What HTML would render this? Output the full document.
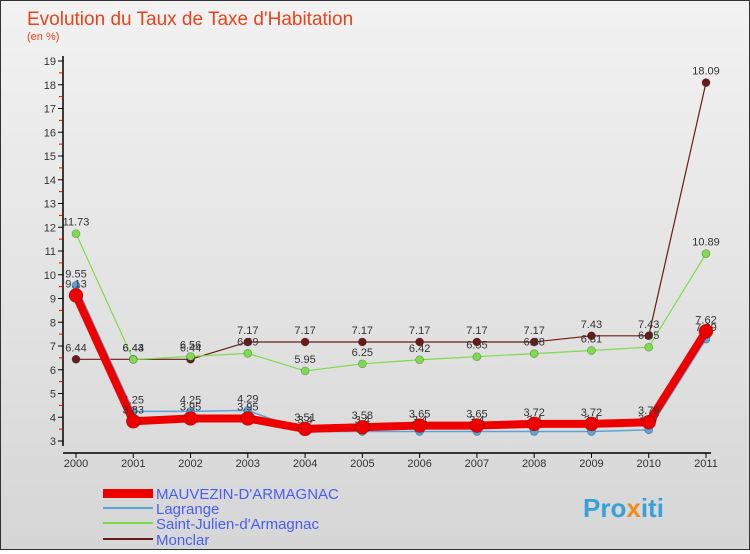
<!DOCTYPE html>
<html><head><meta charset="utf-8"><style>
body{margin:0;width:750px;height:550px;overflow:hidden;font-family:"Liberation Sans",sans-serif}
#wrap{position:relative;width:748px;height:548px;border:1px solid #333;background:linear-gradient(#f2f2f2,#d6d6d6)}
</style></head><body>
<div id="wrap">
<svg id="chart" width="748" height="548">
<text x="26" y="24" font-size="19" fill="#e8431b">Evolution du Taux de Taxe d'Habitation</text>
<text x="26" y="39" font-size="11" fill="#e8431b">(en %)</text>
<g id="axes"></g><g id="series"></g>
<g>
<rect x="102" y="488" width="50" height="9" fill="#e00"/>
<text x="155" y="498" font-size="15" fill="#4a5ef0">MAUVEZIN-D'ARMAGNAC</text>
<rect x="102" y="506" width="50" height="2" fill="#5ba3d9"/>
<text x="155" y="513" font-size="15" fill="#4a5ef0">Lagrange</text>
<rect x="102" y="521" width="50" height="2" fill="#7cdc4c"/>
<text x="155" y="528" font-size="15" fill="#4a5ef0">Saint-Julien-d'Armagnac</text>
<rect x="102" y="537" width="50" height="2" fill="#6b1a1a"/>
<text x="155" y="544" font-size="15" fill="#4a5ef0">Monclar</text>
</g>
<text x="582" y="516" font-size="26" font-weight="bold" fill="#3aa0d8">Pro<tspan fill="#f08a1c">x</tspan>iti</text>
</svg></div>
<script>
const years=[2000,2001,2002,2003,2004,2005,2006,2007,2008,2009,2010,2011];
const mauvezin=[9.13,3.83,3.95,3.95,3.51,3.58,3.65,3.65,3.72,3.72,3.79,7.62];
const lagrange=[9.55,4.25,4.25,4.29,3.4,3.4,3.4,3.4,3.4,3.4,3.47,7.29];
const stjulien=[11.73,6.43,6.56,6.69,5.95,6.25,6.42,6.55,6.68,6.81,6.95,10.89];
const monclar=[6.44,6.44,6.44,7.17,7.17,7.17,7.17,7.17,7.17,7.43,7.43,18.09];
const yTicks=[3,4,5,6,7,8,9,10,11,12,13,14,15,16,17,18,19];
const NS="http://www.w3.org/2000/svg";
function xs(i){return 75+i*(630/11);}
function ys(v){return 440-(v-3)*23.75;}
function mk(t,a,p){const e=document.createElementNS(NS,t);for(const k in a)e.setAttribute(k,a[k]);p.appendChild(e);return e;}
const ax=document.getElementById('axes');
let l=mk('line',{x1:62,y1:55,x2:62,y2:445,stroke:'#000','stroke-width':1.5},ax);


l=mk('line',{x1:62,y1:452,x2:710,y2:452,stroke:'#000','stroke-width':1.5},ax);


yTicks.forEach(v=>{
 mk('line',{x1:57,y1:ys(v),x2:62,y2:ys(v),stroke:'#000'},ax);
 if(v<19) mk('line',{x1:58,y1:ys(v+0.5),x2:62,y2:ys(v+0.5),stroke:'#e00'},ax);
 const t=mk('text',{x:55,y:ys(v)+4,'font-size':11,fill:'#333','text-anchor':'end'},ax);t.textContent=v;
 
 
});
years.forEach((y,i)=>{
 mk('line',{x1:xs(i),y1:452,x2:xs(i),y2:457,stroke:'#000'},ax);
 const t=mk('text',{x:xs(i),y:466,'font-size':11,fill:'#333','text-anchor':'middle'},ax);t.textContent=y;
 
 
});
const sg=document.getElementById('series');
function draw(vals,color,w,r,name){
 const g=mk('g',{},sg);
 
 
 const p=mk('polyline',{points:vals.map((v,i)=>xs(i)+','+ys(v)).join(' '),fill:'none',stroke:color,'stroke-width':w,'stroke-linejoin':'round'},g);
 
 
 vals.forEach((v,i)=>{
  const c=mk('circle',{cx:xs(i),cy:ys(v),r:r,fill:color,stroke:'rgba(0,0,0,0.3)','stroke-width':0.7},g);
  
  
  const t=mk('text',{x:xs(i),y:ys(v)-8,'font-size':11,fill:'#333','text-anchor':'middle'},g);t.textContent=v;
  
  
 });
}
draw(monclar,'#6b1a1a',1.2,4,'monclar');
draw(stjulien,'#7cdc4c',1.2,4,'saint-julien');
draw(lagrange,'#5ba3d9',1.5,4,'lagrange');
draw(mauvezin,'#e00',8,7,'mauvezin');
</script>
</body></html>
